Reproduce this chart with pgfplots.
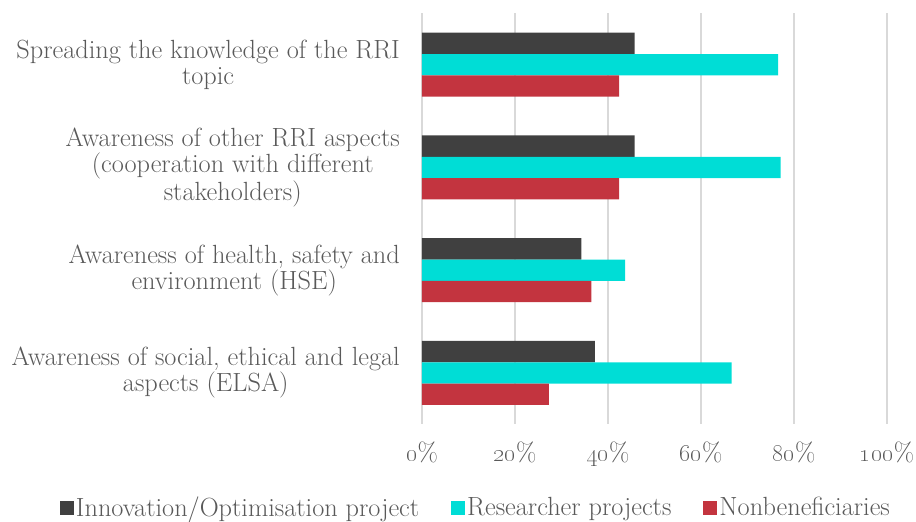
\documentclass[border=0pt]{standalone}
\usepackage{pgfplots}
\pgfplotsset{compat=1.18}
\definecolor{darkbar}{HTML}{404040}
\definecolor{cyanbar}{HTML}{00DDD6}
\definecolor{redbar}{HTML}{C3343F}
\definecolor{txtgray}{HTML}{595959}
\definecolor{gridgray}{HTML}{D9D9D9}
\newcommand{\lbl}{\fontsize{26.3bp}{26bp}\selectfont}
\begin{document}
\begin{tikzpicture}
\path[use as bounding box] (-422bp,-97.7bp) rectangle (494bp,424.3bp);
\begin{axis}[
  at={(0,0)}, anchor=south west,
  scale only axis, width=465bp, height=411bp,
  xbar=0pt, bar width=21.3bp,
  xmin=0, xmax=100, ymin=-0.5, ymax=3.5, y dir=reverse,
  xtick={0,20,40,60,80,100},
  xticklabels={\oldstylenums{0}\%,\oldstylenums{20}\%,\oldstylenums{40}\%,\oldstylenums{60}\%,\oldstylenums{80}\%,\oldstylenums{100}\%},
  ytick={0,1,2,3},
  yticklabels={{Spreading the knowledge of the RRI\\topic},{Awareness of other RRI aspects\\(cooperation with different\\stakeholders)},{Awareness of health, safety and\\environment (HSE)},{Awareness of social, ethical and legal\\aspects (ELSA)}},
  xmajorgrids, grid style={gridgray, line width=1.3bp},
  axis line style={draw=none}, major tick length=0pt,
  tick style={draw=none},
  xticklabel style={font=\lbl, text=txtgray, anchor=base, yshift=-37.4bp, inner sep=0pt},
  yticklabel style={font=\lbl, text=txtgray, align=center, anchor=east, inner sep=0pt, xshift=-22bp},
  legend style={at={(0.116,-0.2015)}, anchor=center, draw=none, font=\lbl, text=txtgray,
    legend columns=3, /tikz/every even column/.append style={column sep=30bp},
    legend cell align=left, inner sep=0pt},
  legend image code/.code={\fill[#1] (0bp,-8bp) rectangle (14bp,6bp);},
]
\addplot[fill=darkbar, draw=none, bar shift=21.3bp] coordinates {(45.7,0) (45.7,1) (34.3,2) (37.2,3)};
\addplot[fill=cyanbar, draw=none, bar shift=0bp] coordinates {(76.6,0) (77.1,1) (43.7,2) (66.6,3)};
\addplot[fill=redbar, draw=none, bar shift=-21.3bp] coordinates {(42.4,0) (42.4,1) (36.4,2) (27.3,3)};
\legend{Innovation/Optimisation project,Researcher projects,Nonbeneficiaries}
\end{axis}
\end{tikzpicture}
\end{document}
